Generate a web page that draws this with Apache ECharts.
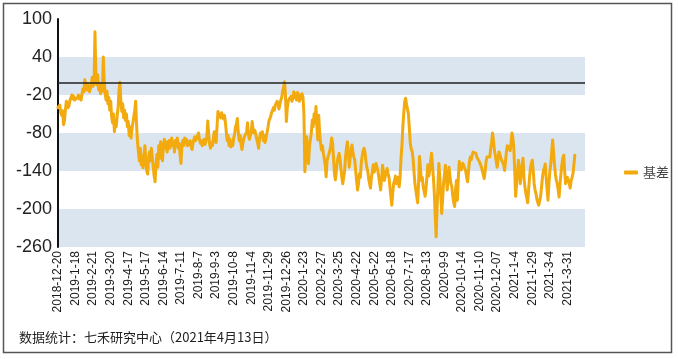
<!DOCTYPE html>
<html><head><meta charset="utf-8">
<script src="https://cdn.jsdelivr.net/npm/echarts@6/dist/echarts.min.js"></script>
<style>html,body{margin:0;padding:0;background:#fff}#c{width:678px;height:359px}</style>
</head><body><div id="c"></div>
<script>
// Chart data
const startDate = '2018-12-20';
const endDate = '2021-04-13';
const holidays = ['2018-12-31','2019-01-01','2019-02-04','2019-02-05','2019-02-06','2019-02-07','2019-02-08','2019-04-05','2019-05-01','2019-05-02','2019-05-03','2019-06-07','2019-09-13','2019-10-01','2019-10-02','2019-10-03','2019-10-04','2019-10-07','2020-01-01','2020-01-24','2020-01-27','2020-01-28','2020-01-29','2020-01-30','2020-01-31','2020-04-06','2020-05-01','2020-05-04','2020-05-05','2020-06-25','2020-06-26','2020-10-01','2020-10-02','2020-10-05','2020-10-06','2020-10-07','2020-10-08','2021-01-01','2021-02-11','2021-02-12','2021-02-15','2021-02-16','2021-02-17','2021-04-05'];
const labelOverrides = {'2020-12-7':'2020-12-07'};
const seriesName = '基差';
const basis = [
-40,-42,-36,-48,-52,-45,-67,-60,-44,-30,-34,-40,-36,-28,-24,-20,-26,-22,-28,-25,
-30,-24,-20,-26,-22,-28,-18,-10,-15,4,-8,-12,-2,-6,-15,-10,-4,8,-6,-2,
80,6,-4,12,-12,-2,-18,-8,-14,40,2,-18,-28,-14,-34,-24,-44,-30,-54,-64,
-50,-78,-60,-70,-52,-40,-12,0,-30,-46,-34,-56,-44,-60,-50,-70,-62,-84,-70,-88,
-74,-64,-54,-44,-30,-68,-94,-110,-124,-104,-130,-116,-135,-114,-100,-124,-140,-145,-120,-110,
-124,-104,-118,-134,-148,-157,-130,-114,-134,-100,-120,-94,-110,-124,-100,-90,-104,-94,-110,-100,
-92,-104,-98,-88,-100,-94,-110,-92,-100,-88,-104,-96,-114,-128,-100,-92,-100,-88,-95,-90,
-100,-94,-98,-92,-102,-106,-96,-90,-86,-92,-88,-84,-80,-90,-96,-92,-100,-94,-90,-98,
-92,-86,-61,-84,-98,-104,-96,-100,-90,-78,-88,-95,-70,-46,-52,-50,-56,-48,-54,-58,
-52,-62,-78,-92,-84,-100,-90,-102,-94,-100,-88,-82,-70,-66,-57,-80,-92,-84,-98,-106,
-96,-88,-85,-90,-78,-64,-82,-90,-84,-80,-62,-74,-80,-76,-78,-90,-96,-104,-88,-80,
-86,-78,-92,-84,-95,-88,-80,-72,-62,-60,-54,-48,-45,-40,-44,-36,-38,-30,-34,-42,
-40,-28,-24,-14,-8,1,-20,-62,-40,-30,-26,-28,-22,-30,-26,-15,-24,-18,-28,-16,
-22,-30,-20,-26,-18,-24,-50,-141,-110,-86,-120,-128,-100,-90,-80,-60,-70,-50,-64,-38,
-70,-91,-52,-80,-96,-107,-100,-112,-113,-130,-149,-124,-118,-113,-108,-100,-88,-96,-120,-144,
-154,-140,-126,-118,-112,-120,-136,-150,-160,-150,-140,-118,-104,-94,-110,-134,-120,-108,-99,-110,
-118,-123,-140,-156,-170,-160,-144,-150,-128,-116,-108,-104,-110,-124,-134,-140,-152,-160,-167,-150,
-139,-130,-142,-136,-128,-134,-140,-150,-160,-170,-150,-131,-140,-155,-148,-142,-136,-144,-150,-165,
-180,-194,-176,-160,-155,-148,-160,-154,-150,-165,-150,-120,-100,-70,-48,-30,-25,-35,-42,-50,
-72,-96,-105,-109,-120,-140,-159,-170,-180,-190,-160,-117,-135,-155,-150,-165,-172,-180,-168,-150,
-130,-148,-140,-125,-112,-130,-150,-175,-210,-244,-200,-160,-128,-150,-180,-207,-185,-160,-145,-131,
-150,-170,-150,-134,-150,-160,-165,-180,-190,-196,-170,-155,-186,-150,-125,-130,-138,-135,-128,-132,
-134,-140,-150,-157,-140,-125,-118,-122,-115,-110,-112,-107,-112,-118,-115,-120,-126,-130,-134,-140,
-146,-152,-140,-125,-118,-115,-120,-118,-105,-95,-80,-92,-107,-115,-125,-134,-120,-110,-114,-120,
-118,-120,-130,-139,-125,-110,-100,-97,-104,-108,-96,-80,-88,-105,-140,-180,-160,-140,-123,-140,
-160,-145,-130,-120,-150,-165,-175,-182,-190,-170,-150,-135,-128,-123,-140,-160,-170,-176,-185,-190,
-194,-196,-180,-165,-150,-140,-135,-129,-150,-170,-186,-160,-140,-129,-110,-91,-110,-130,-145,-155,
-160,-170,-181,-160,-144,-130,-120,-115,-140,-160,-155,-150,-150,-160,-167,-155,-150,-144,-130,-115
];
const yTicks = [-260,-200,-140,-80,-20,40,100];
const zeroLine = 0;
const footnote = '数据统计：七禾研究中心（2021年4月13日）';

// build trading-day categories
function fmt(d){return d.getUTCFullYear()+'-'+(d.getUTCMonth()+1)+'-'+d.getUTCDate();}
function iso(d){return d.toISOString().slice(0,10);}
const hol = new Set(holidays);
const dates = [];
for(let d=new Date(startDate+'T00:00:00Z'); iso(d)<=endDate; d.setUTCDate(d.getUTCDate()+1)){
  const w=d.getUTCDay(); if(w===0||w===6) continue; if(hol.has(iso(d))) continue;
  const s=fmt(d); dates.push(labelOverrides[s]||s);
}
const padCount = 11;
const categories = dates.concat(Array(padCount).fill(''));
const values = basis.slice(0, dates.length).concat(Array(categories.length - Math.min(basis.length, dates.length)).fill(null));

const chart = echarts.init(document.getElementById('c'), null, {renderer:'canvas'});
chart.setOption({
  animation:false,
  backgroundColor:'#fff',
  textStyle:{fontFamily:'Arial, "Liberation Sans", "Noto Sans CJK SC", sans-serif'},
  grid:{left:58, top:19, right:93, bottom:112, containLabel:false},
  legend:{
    data:[seriesName], left:619, top:161, orient:'vertical',
    icon:'roundRect', itemWidth:14, itemHeight:4, itemGap:8,
    textStyle:{fontSize:13, color:'#444', fontFamily:'"Noto Sans CJK SC", sans-serif'}
  },
  xAxis:{
    type:'category', data:categories, boundaryGap:false,
    axisLine:{show:false}, axisTick:{show:false},
    axisLabel:{rotate:90, interval:18, fontSize:12, color:'#1a1a1a', margin:4, fontFamily:'Arial, "Liberation Sans", sans-serif'},
    splitLine:{show:false}
  },
  yAxis:{
    type:'value', min:yTicks[0], max:yTicks[yTicks.length-1], interval:60,
    axisLine:{show:true, lineStyle:{color:'#111', width:2}},
    axisTick:{show:false},
    axisLabel:{fontSize:18, color:'#222', margin:6, fontFamily:'Arial, "Liberation Sans", sans-serif'},
    splitLine:{show:false},
    splitArea:{show:true, areaStyle:{color:['#dbe5f0','#ffffff']}}
  },
  series:[{
    name:seriesName, type:'line', data:values, showSymbol:false, symbol:'none',
    lineStyle:{color:'#f2aa0e', width:3, join:'round', cap:'round'}, itemStyle:{color:'#f2aa0e'},
    markLine:{silent:true, symbol:'none', label:{show:false},
      lineStyle:{color:'#222', width:1.5, type:'solid'},
      data:[{yAxis:zeroLine}]}
  }],
  graphic:[
    {type:'rect', shape:{x:3.5, y:3.5, width:668, height:349}, style:{fill:'none', stroke:'#555', lineWidth:1.5}, z:100},
    {type:'text', left:19, top:331, style:{text:footnote, fontSize:13, fill:'#222', fontFamily:'"Noto Sans CJK SC", sans-serif'}}
  ]
});
</script></body></html>
